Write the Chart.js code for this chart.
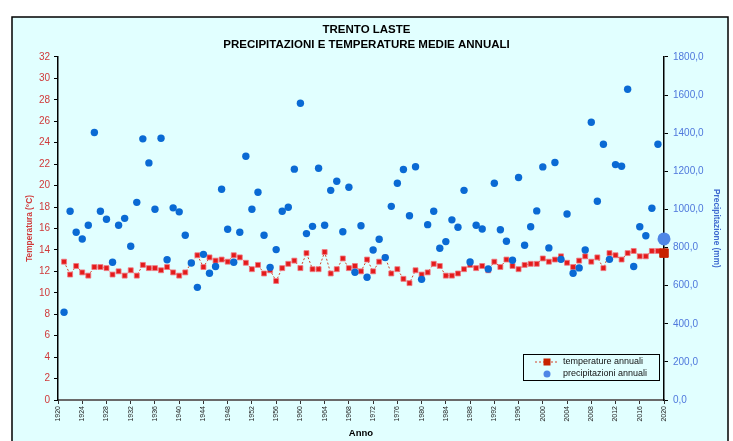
<!DOCTYPE html>
<html><head><meta charset="utf-8">
<script src="https://cdn.jsdelivr.net/npm/chart.js@4.4.1/dist/chart.umd.min.js"></script>
<style>html,body{margin:0;padding:0;background:#fff;}#wrap{width:733px;height:441px;position:relative}</style>
</head><body><div id="wrap"><canvas id="c" width="733" height="441"></canvas></div>
<script>
const years = [1921,1922,1923,1924,1925,1926,1927,1928,1929,1930,
1931,1932,1933,1934,1935,1936,1937,1938,1939,1940,
1941,1942,1943,1944,1945,1946,1947,1948,1949,1950,
1951,1952,1953,1954,1955,1956,1957,1958,1959,1960,
1961,1962,1963,1964,1965,1966,1967,1968,1969,1970,
1971,1972,1973,1974,1975,1976,1977,1978,1979,1980,
1981,1982,1983,1984,1985,1986,1987,1988,1989,1990,
1991,1992,1993,1994,1995,1996,1997,1998,1999,2000,
2001,2002,2003,2004,2005,2006,2007,2008,2009,2010,
2011,2012,2013,2014,2015,2016,2017,2018,2019,2020];
const temperature = [12.9,11.7,12.5,11.9,11.6,12.4,12.4,12.3,11.7,12.0,
11.6,12.1,11.6,12.6,12.3,12.3,12.1,12.4,11.9,11.6,
11.9,12.8,13.5,12.4,13.3,13.0,13.1,12.9,13.5,13.3,
12.8,12.2,12.6,11.8,12.1,11.1,12.3,12.7,13.0,12.3,
13.7,12.2,12.2,13.8,11.8,12.2,13.2,12.3,12.5,12.0,
13.1,12.0,12.9,13.3,11.8,12.2,11.3,10.9,12.1,11.7,
11.9,12.7,12.5,11.6,11.6,11.8,12.2,12.6,12.3,12.5,
12.1,12.9,12.4,13.1,12.5,12.2,12.6,12.7,12.7,13.2,
12.9,13.1,13.4,12.8,12.4,13.0,13.4,12.9,13.3,12.3,
13.7,13.5,13.1,13.7,13.9,13.4,13.4,13.9,13.9,13.7];
const precipitation = [460,990,880,845,917,1403,990,948,723,917,
953,807,1037,1370,1244,1001,1373,736,1008,987,
864,719,591,764,665,700,1106,896,723,880,
1279,1001,1090,864,696,789,990,1011,1211,1557,
873,911,1216,917,1100,1148,883,1116,670,914,
644,787,843,747,1016,1137,1209,967,1224,633,
920,990,796,831,945,906,1100,724,917,897,
687,1137,893,833,733,1167,812,909,992,1223,
798,1246,738,976,665,693,787,1457,1043,1342,
738,1235,1226,1630,700,909,862,1006,1342,845];
const titleLines = ["TRENTO LASTE", "PRECIPITAZIONI E TEMPERATURE MEDIE ANNUALI"];
const seriesNames = ["temperature annuali", "precipitazioni annuali"];
const tempAxis = {min: 0, max: 32, step: 2, title: "Temperatura (°C)"};
const precAxis = {min: 0, max: 1800, step: 200, title: "Precipitazione (mm)"};
const yearAxis = {min: 1920, max: 2020, step: 4, title: "Anno"};

const RED = '#E31B1B', LINE = '#D2442A', BLUE = '#0A6AD4', BLUE2 = '#4F86E6', DARKRED = '#C82200';
const BG = '#E1FFFF';
const lastIdx = years.length - 1;

const frame = {
  id: 'frame',
  beforeDraw(chart) {
    const c = chart.ctx;
    c.save();
    c.fillStyle = '#fff'; c.fillRect(0, 0, chart.width, chart.height);
    c.fillStyle = BG; c.fillRect(12, 17, 716, 430);
    c.strokeStyle = '#000'; c.lineWidth = 1.5; c.strokeRect(12, 17, 716, 430);
    c.restore();
  },
  afterDraw(chart) {
    const c = chart.ctx;
    c.save();
    c.strokeStyle = '#000'; c.lineWidth = 1;
    c.strokeRect(523.5, 354.5, 136, 26);
    c.strokeStyle = LINE; c.setLineDash([2, 2]);
    c.beginPath(); c.moveTo(535, 362); c.lineTo(559, 362); c.stroke();
    c.setLineDash([]);
    c.fillStyle = DARKRED; c.fillRect(543.5, 358.5, 7, 7);
    c.fillStyle = BLUE2; c.beginPath(); c.arc(547, 374, 3.5, 0, Math.PI * 2); c.fill();
    c.fillStyle = '#111'; c.font = '9px "Liberation Sans", Arial, sans-serif';
    c.textBaseline = 'middle'; c.textAlign = 'left';
    c.fillText(seriesNames[0], 563, 362);
    c.fillText(seriesNames[1], 563, 374);
    c.restore();
  }
};

const ff = '"Liberation Sans", Arial, sans-serif';
new Chart(document.getElementById('c'), {
  type: 'line',
  data: {
    datasets: [
      {
        label: seriesNames[0], yAxisID: 'y', xAxisID: 'x', clip: false,
        data: years.map((y, i) => ({x: y, y: temperature[i]})),
        borderColor: LINE, borderWidth: 1, borderDash: [2, 2],
        pointStyle: 'rect',
        pointRadius: ctx => ctx.dataIndex === lastIdx ? 6 : 3.5,
        pointBackgroundColor: ctx => ctx.dataIndex === lastIdx ? DARKRED : RED,
        pointBorderColor: ctx => ctx.dataIndex === lastIdx ? DARKRED : 'rgba(240,120,130,0.8)',
        pointBorderWidth: 1, tension: 0, order: 2
      },
      {
        label: seriesNames[1], yAxisID: 'y1', xAxisID: 'x', showLine: false, clip: false,
        data: years.map((y, i) => ({x: y, y: precipitation[i]})),
        pointStyle: 'circle',
        pointRadius: ctx => ctx.dataIndex === lastIdx ? 6.5 : 3.7,
        pointBackgroundColor: ctx => ctx.dataIndex === lastIdx ? BLUE2 : BLUE,
        pointBorderWidth: 0, borderWidth: 0, order: 1
      }
    ]
  },
  options: {
    responsive: false, animation: false, events: [],
    layout: {padding: 0},
    plugins: {
      legend: {display: false}, tooltip: {enabled: false},
      title: {display: true, text: titleLines, color: '#000',
        font: {family: ff, size: 11.5, weight: 'bold', lineHeight: 1.3},
        padding: {top: 22, bottom: 5}}
    },
    scales: {
      x: {
        type: 'linear', position: 'bottom', min: yearAxis.min, max: yearAxis.max,
        afterFit: s => { s.height = 41; },
        ticks: {stepSize: yearAxis.step, autoSkip: false, minRotation: 90, maxRotation: 90,
          callback: v => String(v), color: '#222', font: {family: ff, size: 7}, padding: 2},
        grid: {drawOnChartArea: false, drawTicks: true, tickLength: 4, color: '#333'},
        border: {display: true, color: '#6a6a6a', width: 2},
        title: {display: true, text: yearAxis.title, color: '#000',
          font: {family: ff, size: 9.5, weight: 'bold'}, padding: {top: 0, bottom: 2}}
      },
      y: {
        type: 'linear', position: 'left', min: tempAxis.min, max: tempAxis.max,
        afterFit: s => { s.width = 58; },
        ticks: {stepSize: tempAxis.step, color: '#D03A3A', font: {family: ff, size: 10}, padding: 4},
        grid: {drawOnChartArea: false, drawTicks: true, tickLength: 4, color: '#000'},
        border: {display: true, color: '#000', width: 1.5},
        title: {display: true, text: tempAxis.title, color: '#D03A3A',
          font: {family: ff, size: 8.3, weight: 'bold'}, padding: {top: 25, bottom: 0}}
      },
      y1: {
        type: 'linear', position: 'right', min: precAxis.min, max: precAxis.max,
        afterFit: s => { s.width = 69; },
        ticks: {stepSize: precAxis.step, color: '#4F78DC', font: {family: ff, size: 10}, padding: 5,
          callback: v => v.toFixed(1).replace('.', ',')},
        grid: {drawOnChartArea: false, drawTicks: true, tickLength: 4, color: '#000'},
        border: {display: true, color: '#000', width: 1.5},
        title: {display: true, text: precAxis.title, color: '#3F6AD0',
          font: {family: ff, size: 8.3, weight: 'bold'}, padding: {top: 12, bottom: 0}}
      }
    }
  },
  plugins: [frame]
});
</script>
</body></html>
